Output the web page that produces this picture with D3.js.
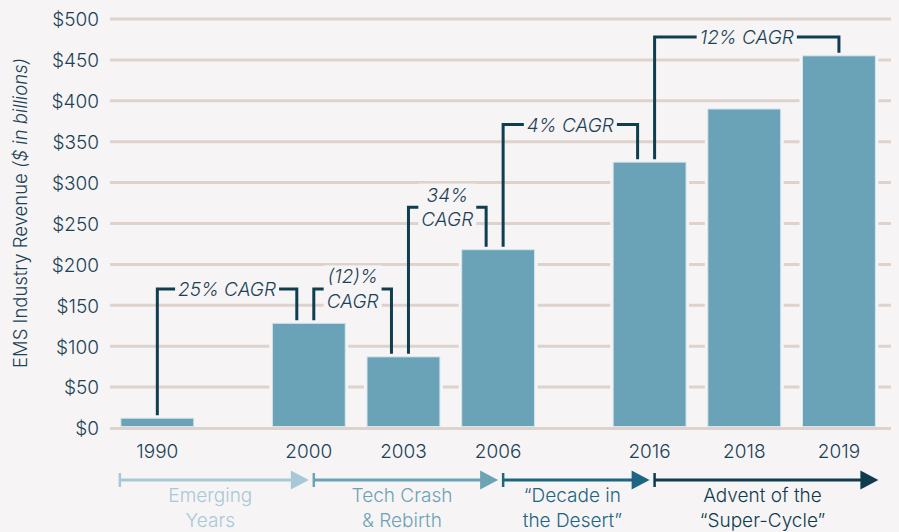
<!DOCTYPE html>
<html>
<head>
<meta charset="UTF-8">
<script src="https://cdn.jsdelivr.net/npm/d3@7"></script>
<style>
  body { margin: 0; background: #f7f4f5; }
  svg { display: block; font-family: Inter, Lato, sans-serif; font-weight: 300; }
</style>
</head>
<body>
<svg width="899" height="532"></svg>
<script>
// data
var years = ["1990", "2000", "2003", "2006", "2016", "2018", "2019"];
var revenue = [12, 128, 87, 218, 325, 390, 455];
var yearGroup = [0, 1, 1, 1, 2, 2, 2];
var yTicks = [0, 50, 100, 150, 200, 250, 300, 350, 400, 450, 500];

var cagrLabels = [["25% CAGR"], ["(12)%", "CAGR"], ["34%", "CAGR"], ["4% CAGR"], ["12% CAGR"]];
var cagrFrom = ["1990", "2000", "2003", "2006", "2016"];
var cagrTo = ["2000", "2003", "2006", "2016", "2019"];
var cagrLevel = [170, 170, 270, 371, 478];

var eraLabels = [["Emerging", "Years"], ["Tech Crash", "& Rebirth"],
  ["\u201cDecade in", "the Desert\u201d"], ["Advent of the", "\u201cSuper-Cycle\u201d"]];
var eraStart = ["1990", "2000", "2006", "2016"];
var eraEnd = ["2000", "2006", "2016", "2019"];
var eraColors = ["#a7c9d5", "#6ba3b7", "#1d6583", "#0e3c4e"];

var bg = "#f7f4f5", gridColor = "#ddd3cc", ink = "#1b4356", barColor = "#6aa3b8", lineColor = "#0f3e51";

var svg = d3.select("svg");
var marge = {top: 19, bottom: 104, left: 110, right: 8};
var width = +svg.attr("width"), height = +svg.attr("height");

// slot index with extra room between year groups
var slot = years.map(function(d, i) { return i + 0.6 * yearGroup[i]; });
var x = d3.scaleLinear().domain([-0.5, d3.max(slot) + 0.55]).range([marge.left, width - marge.right]);
var step = x(1) - x(0);
var barW = step * 0.77;
function cx(yr) { return x(slot[years.indexOf(yr)]); }

var y = d3.scaleLinear().domain([0, 500]).range([height - marge.bottom, marge.top]);

// y axis
var yAxis = d3.axisLeft(y).tickValues(yTicks).tickSize(0).tickPadding(11)
  .tickFormat(function(d) { return "$" + d; });
var ya = svg.append("g").attr("transform", "translate(" + marge.left + ",0)").call(yAxis);
ya.select(".domain").remove();
ya.selectAll("text").attr("font-size", 19).attr("fill", ink).attr("font-family", "Inter")
  .attr("font-weight", 300).attr("dy", "0.36em");

// gridlines
svg.append("g").selectAll("line").data(yTicks.filter(function(d) { return d > 0; })).enter().append("line")
  .attr("x1", marge.left).attr("x2", width - marge.right)
  .attr("y1", function(d) { return y(d); }).attr("y2", function(d) { return y(d); })
  .attr("stroke", gridColor).attr("stroke-width", 3);

// bars
var gs = svg.append("g").selectAll("g").data(revenue).enter().append("g");
gs.append("rect")
  .attr("x", function(d, i) { return x(slot[i]) - barW / 2 - 3; })
  .attr("y", function(d) { return y(d) - 3; })
  .attr("width", barW + 6)
  .attr("height", function(d) { return y(0) - y(d) + 1; })
  .attr("fill", bg);
gs.append("rect")
  .attr("x", function(d, i) { return x(slot[i]) - barW / 2; })
  .attr("y", function(d) { return y(d); })
  .attr("width", barW)
  .attr("height", function(d) { return y(0) - y(d) - 1.5; })
  .attr("fill", barColor).attr("stroke", "#d6e6ec").attr("stroke-width", 1);

// zero line
svg.append("line").attr("x1", marge.left).attr("x2", width - marge.right)
  .attr("y1", y(0) + 0.5).attr("y2", y(0) + 0.5).attr("stroke", gridColor).attr("stroke-width", 3);

// x labels
svg.append("g").selectAll("text").data(years).enter().append("text")
  .attr("x", function(d) { return cx(d); }).attr("y", 458)
  .attr("text-anchor", "middle").attr("font-size", 19).attr("fill", ink)
  .text(function(d) { return d; });

// CAGR brackets
function hasIncoming(yr) { return cagrTo.indexOf(yr) >= 0; }
function hasOutgoing(yr) { return cagrFrom.indexOf(yr) >= 0; }
var ag = svg.append("g");
cagrLabels.forEach(function(lines, i) {
  var fi = years.indexOf(cagrFrom[i]), ti = years.indexOf(cagrTo[i]);
  var x1 = cx(cagrFrom[i]) + (hasIncoming(cagrFrom[i]) ? 5 : 0);
  var x2 = cx(cagrTo[i]) - (hasOutgoing(cagrTo[i]) ? 12 : 0);
  var ly = y(cagrLevel[i]);
  ag.append("path")
    .attr("d", "M" + x1 + "," + (y(revenue[fi]) - 3) + "V" + ly + "H" + x2 + "V" + (y(revenue[ti]) - 3))
    .attr("fill", "none").attr("stroke", lineColor).attr("stroke-width", 3).attr("stroke-linejoin", "miter");
  var tg = ag.append("g");
  var t = tg.append("text").attr("text-anchor", "middle").attr("font-size", 19)
    .attr("font-style", "italic").attr("fill", ink);
  var base = lines.length === 1 ? ly + 7 : ly - 5.5;
  lines.forEach(function(s, k) {
    t.append("tspan").attr("x", (x1 + x2) / 2).attr("y", base + k * 24.5).text(s);
  });
  var bb = t.node().getBBox();
  tg.insert("rect", "text")
    .attr("x", bb.x - 3).attr("y", bb.y).attr("width", bb.width + 6).attr("height", bb.height)
    .attr("fill", bg);
});

// eras along the bottom
var eraY = 480;
var eg = svg.append("g");
var starts = eraStart.map(function(yr, i) {
  return i === 0 ? cx(yr) - barW / 2 - 1 : cx(yr) + 5;
});
eraLabels.forEach(function(lines, i) {
  var sx = starts[i];
  var tip = i < eraLabels.length - 1 ? starts[i + 1] - 5 : cx(eraEnd[i]) + barW / 2 + 3;
  var c = eraColors[i];
  eg.append("line").attr("x1", sx).attr("x2", sx).attr("y1", eraY - 7).attr("y2", eraY + 7)
    .attr("stroke", c).attr("stroke-width", 2.5);
  eg.append("line").attr("x1", sx).attr("x2", tip - 15).attr("y1", eraY).attr("y2", eraY)
    .attr("stroke", c).attr("stroke-width", 3);
  eg.append("path").attr("d", "M" + tip + "," + eraY + "L" + (tip - 18) + "," + (eraY - 9.5) +
    "L" + (tip - 18) + "," + (eraY + 9.5) + "Z").attr("fill", c);
  var t = eg.append("text").attr("text-anchor", "middle").attr("font-size", 19).attr("fill", c);
  lines.forEach(function(s, k) {
    t.append("tspan").attr("x", (sx + tip - 8) / 2).attr("y", 502 + k * 24.5).text(s);
  });
});

// y title
var yt = svg.append("text").attr("transform", "translate(27,213) rotate(-90)")
  .attr("text-anchor", "middle").attr("font-size", 18.5).attr("fill", ink);
yt.append("tspan").text("EMS Industry Revenue ");
yt.append("tspan").attr("font-style", "italic").text("($ in billions)");
</script>
</body>
</html>
